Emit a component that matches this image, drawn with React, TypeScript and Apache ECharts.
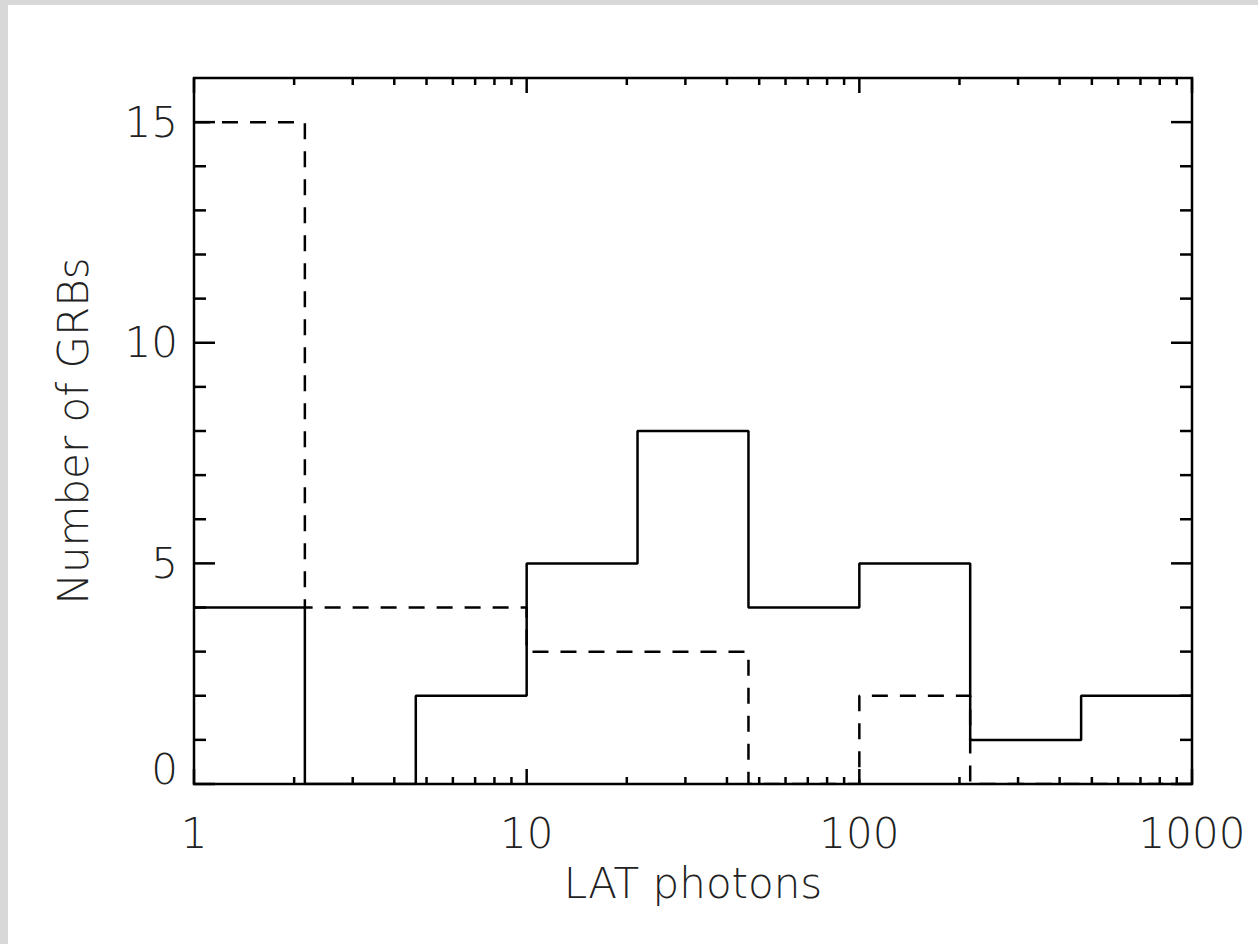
import React, { useEffect, useRef } from "react";
import * as echarts from "echarts";

// Histogram bin edges (LAT photons, log-spaced)
const binEdges = [1, 2.154, 4.642, 10, 21.54, 46.42, 100, 215.4, 464.2, 1000];
// Counts per bin
const solidCounts = [4, 0, 2, 5, 8, 4, 5, 1, 2];
const dashedCounts = [15, 4, 4, 3, 3, 0, 2, 0, 0];
// Axis ticks
const xMajorTicks = [1, 10, 100, 1000];
const xMinorTicks = [2, 3, 4, 5, 6, 7, 8, 9, 20, 30, 40, 50, 60, 70, 80, 90, 200, 300, 400, 500, 600, 700, 800, 900];
const yMajorTicks = [0, 5, 10, 15];
const yMinorTicks = [1, 2, 3, 4, 6, 7, 8, 9, 11, 12, 13, 14];

const xTitle = "LAT photons";
const yTitle = "Number of GRBs";

function stepData(counts: number[]) {
  const pts: number[][] = [];
  for (let i = 0; i < counts.length; i++) pts.push([binEdges[i], counts[i]]);
  pts.push([binEdges[binEdges.length - 1], counts[counts.length - 1]]);
  return pts;
}

const FONT = "'DejaVu Sans', sans-serif";
const FW = 200;
const TXT = "#222";
const LW = 2.5;

export default function App() {
  const ref = useRef<HTMLDivElement>(null);
  useEffect(() => {
    if (!ref.current) return;
    const chart = echarts.init(ref.current, undefined, { renderer: "svg" });
    const tickData: number[][] = [];
    xMajorTicks.forEach((v) => tickData.push([v, 0, 0]));
    xMinorTicks.forEach((v) => tickData.push([v, 0, 1]));
    yMajorTicks.forEach((v) => tickData.push([1, v, 2]));
    yMinorTicks.forEach((v) => tickData.push([1, v, 3]));

    chart.setOption({
      animation: false,
      backgroundColor: "#ffffff",
      grid: {
        left: 186,
        top: 73,
        right: 66,
        bottom: 160,
        show: true,
        borderColor: "#000",
        borderWidth: LW,
        backgroundColor: "transparent",
      },
      xAxis: {
        type: "log",
        logBase: 10,
        min: 1,
        max: 1000,
        axisLine: { show: false },
        axisTick: { show: false },
        splitLine: { show: false },
        axisLabel: {
          fontFamily: FONT,
          fontWeight: FW,
          fontSize: 42,
          lineHeight: 42,
          color: TXT,
          margin: 28,
          formatter: (v: number) => String(Math.round(v)),
        },
        name: xTitle,
        nameLocation: "middle",
        nameGap: 78,
        nameTextStyle: { fontFamily: FONT, fontWeight: FW, fontSize: 42, lineHeight: 42, color: TXT },
      },
      yAxis: {
        type: "value",
        min: 0,
        max: 16,
        interval: 5,
        axisLine: { show: false },
        axisTick: { show: false },
        splitLine: { show: false },
        axisLabel: {
          fontFamily: FONT,
          fontWeight: FW,
          fontSize: 42,
          lineHeight: 30,
          color: TXT,
          margin: 16,
          showMaxLabel: false,
          verticalAlignMinLabel: "bottom",
        },
        name: yTitle,
        nameLocation: "middle",
        nameGap: 100,
        nameTextStyle: { fontFamily: FONT, fontWeight: FW, fontSize: 42, lineHeight: 42, color: TXT },
      },
      series: [
        {
          type: "line",
          step: "end",
          data: stepData(dashedCounts),
          symbol: "none",
          lineStyle: { color: "#000", width: LW, type: [16, 12] },
          z: 3,
        },
        {
          type: "line",
          step: "end",
          data: stepData(solidCounts),
          symbol: "none",
          lineStyle: { color: "#000", width: LW },
          z: 4,
        },
        {
          type: "custom",
          data: tickData,
          clip: false,
          z: 5,
          renderItem: (params: any, api: any) => {
            const kind = api.value(2);
            const cs = params.coordSys;
            const st = { stroke: "#000", lineWidth: LW };
            if (kind < 2) {
              const len = kind === 0 ? 15 : 7;
              const px = api.coord([api.value(0), 0])[0];
              return {
                type: "group",
                children: [
                  { type: "line", shape: { x1: px, y1: cs.y + cs.height, x2: px, y2: cs.y + cs.height - len }, style: st },
                  { type: "line", shape: { x1: px, y1: cs.y, x2: px, y2: cs.y + len }, style: st },
                ],
              };
            }
            const len = kind === 2 ? 21 : 12;
            const py = api.coord([1, api.value(1)])[1];
            return {
              type: "group",
              children: [
                { type: "line", shape: { x1: cs.x, y1: py, x2: cs.x + len, y2: py }, style: st },
                { type: "line", shape: { x1: cs.x + cs.width, y1: py, x2: cs.x + cs.width - len, y2: py }, style: st },
              ],
            };
          },
        },
      ],
    });
    return () => chart.dispose();
  }, []);

  return (
    <div style={{ position: "absolute", left: 0, top: 0, width: 1258, height: 944, background: "#d8d8d8", overflow: "hidden" }}>
      <div style={{ position: "absolute", left: 8, top: 5, width: 1250, height: 939, background: "#fff" }}>
        <div ref={ref} style={{ width: 1250, height: 939 }} />
      </div>
    </div>
  );
}
